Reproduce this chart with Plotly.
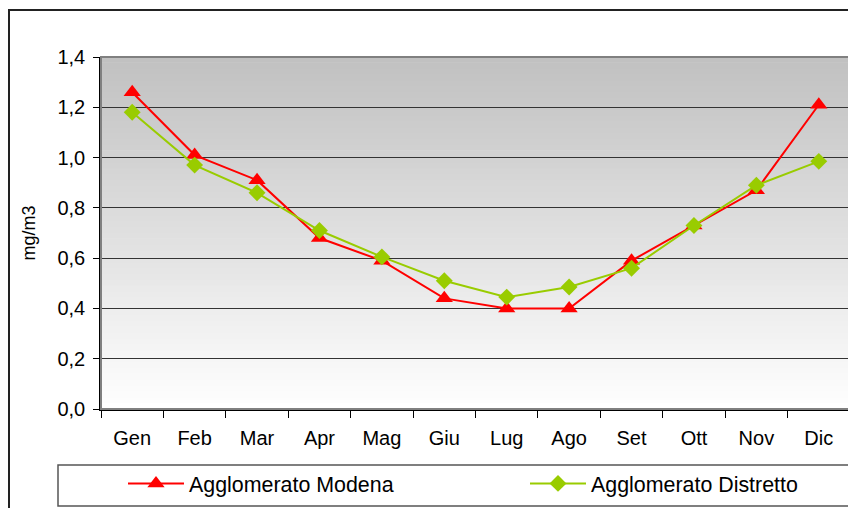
import plotly.graph_objects as go

mesi = ["Gen", "Feb", "Mar", "Apr", "Mag", "Giu", "Lug", "Ago", "Set", "Ott", "Nov", "Dic"]
modena = [1.26, 1.01, 0.91, 0.68, 0.59, 0.44, 0.40, 0.40, 0.59, 0.73, 0.87, 1.21]
distretto = [1.18, 0.97, 0.86, 0.71, 0.605, 0.51, 0.445, 0.485, 0.56, 0.73, 0.89, 0.985]

# the page body has an 8px margin, so the figure is drawn 8px in from the corner
OFF = 8
W, H = 856 - OFF, 508 - OFF
L, R, T, B = 101 - OFF, 6, 57 - OFF, 508 - 409
pw, ph = W - L - R, H - T - B


def px_x(p):
    # screen pixel -> paper coord
    return (p - OFF - L) / pw


def px_y(p):
    return (H - B - (p - OFF)) / ph


fig = go.Figure()
fig.add_trace(go.Scatter(x=mesi, y=modena, name="Agglomerato Modena", mode="lines+markers",
                         line=dict(color="#ff0000", width=2),
                         marker=dict(symbol="triangle-up", size=15, color="#ff0000"),
                         legend="legend"))
fig.add_trace(go.Scatter(x=mesi, y=distretto, name="Agglomerato Distretto", mode="lines+markers",
                         line=dict(color="#99cc00", width=2),
                         marker=dict(symbol="diamond", size=13, color="#99cc00"),
                         legend="legend2"))

# gradient background of the plot area
shapes = []
n = 60
for i in range(n):
    t = i / n
    c = int(255 - (255 - 192) * t)
    shapes.append(dict(type="rect", xref="x domain", yref="y domain", x0=0, x1=1,
                       y0=t, y1=(i + 1) / n + 0.002, layer="below",
                       line=dict(width=0), fillcolor="rgb(%d,%d,%d)" % (c, c, c)))
# plot area frame (top / right)
shapes.append(dict(type="rect", xref="x domain", yref="y domain", x0=0, x1=1, y0=0, y1=1,
                   line=dict(color="#808080", width=2), layer="above"))
# outer chart border
shapes.append(dict(type="rect", xref="paper", yref="paper", x0=px_x(9), x1=px_x(900),
                   y0=px_y(560), y1=px_y(10), line=dict(color="#222222", width=2)))
# legend box
shapes.append(dict(type="rect", xref="paper", yref="paper", x0=px_x(58), x1=px_x(900),
                   y0=px_y(506), y1=px_y(465), line=dict(color="#555555", width=1.5)))

leg = dict(orientation="h", xanchor="left", yanchor="top", bgcolor="rgba(0,0,0,0)",
           font=dict(size=21.4), itemwidth=56)
fig.update_layout(
    width=W, height=H,
    margin=dict(l=L, r=R, t=T, b=B, autoexpand=False),
    paper_bgcolor="white",
    plot_bgcolor="rgba(0,0,0,0)",
    separators=",.",
    font=dict(family="Liberation Sans, Arial", size=20, color="black"),
    shapes=shapes,
    showlegend=True,
    legend=dict(leg, x=px_x(123), y=px_y(463)),
    legend2=dict(leg, x=px_x(525), y=px_y(463)),
)
fig.update_xaxes(type="category", range=[-0.5, 11.5], showgrid=False, ticks="outside",
                 ticklen=7, tickson="boundaries", tickcolor="black", showline=True,
                 linecolor="black", linewidth=1.5, tickfont=dict(size=20),
                 ticklabelstandoff=10)
fig.update_yaxes(range=[0, 1.4], dtick=0.2, tickformat=".1f", showgrid=True,
                 gridcolor="#333333", gridwidth=1, ticks="outside", ticklen=6,
                 tickcolor="black", showline=True, linecolor="black", linewidth=1.5,
                 zeroline=False, title=dict(text="mg/m3", font=dict(size=18), standoff=17),
                 tickfont=dict(size=20), ticklabelstandoff=4)

fig.write_html("out.html")
